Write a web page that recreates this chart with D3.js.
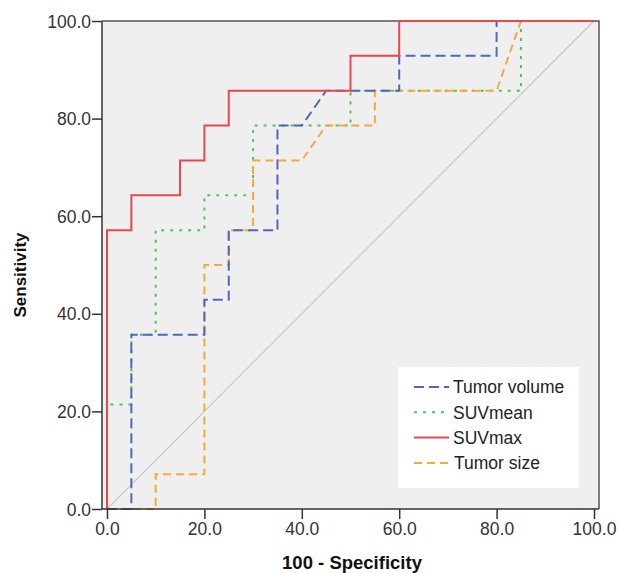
<!DOCTYPE html>
<html>
<head>
<meta charset="utf-8">
<script src="https://cdn.jsdelivr.net/npm/d3@7"></script>
<style>
  html, body { margin: 0; padding: 0; background: #fff; }
  svg { display: block; font-family: "Liberation Sans", Arial, sans-serif; }
</style>
</head>
<body>
<svg id="chart" width="618" height="573"></svg>
<script>
// ---- Data (100 - Specificity, Sensitivity) ----
const seriesNames = ["Tumor volume", "SUVmean", "SUVmax", "Tumor size"];

const volumeX = [0, 5, 5, 20, 20, 25, 25, 35, 35, 40, 45, 60, 60, 80, 80, 100];
const volumeY = [0, 0, 35.71, 35.71, 42.86, 42.86, 57.14, 57.14, 78.57, 78.57, 85.71, 85.71, 92.86, 92.86, 100, 100];

const suvMeanX = [0, 0, 5, 5, 10, 10, 20, 20, 30, 30, 50, 50, 85, 85, 100];
const suvMeanY = [0, 21.43, 21.43, 35.71, 35.71, 57.14, 57.14, 64.29, 64.29, 78.57, 78.57, 85.71, 85.71, 100, 100];

const suvMaxX = [0, 0, 5, 5, 15, 15, 20, 20, 25, 25, 50, 50, 60, 60, 100];
const suvMaxY = [0, 57.14, 57.14, 64.29, 64.29, 71.43, 71.43, 78.57, 78.57, 85.71, 85.71, 92.86, 92.86, 100, 100];

const sizeX = [0, 10, 10, 20, 20, 25, 25, 30, 30, 40, 45, 55, 55, 80, 85, 100];
const sizeY = [0, 0, 7.14, 7.14, 50, 50, 57.14, 57.14, 71.43, 71.43, 78.57, 78.57, 85.71, 85.71, 100, 100];

const xTicks = [0, 20, 40, 60, 80, 100];
const yTicks = [0, 20, 40, 60, 80, 100];
const xTitle = "100 - Specificity";
const yTitle = "Sensitivity";

// ---- Styles ----
const styles = [
  { color: "#4d68bf", dash: "10,5" },
  { color: "#52c05c", dash: "3,6" },
  { color: "#e9474c", dash: null },
  { color: "#f6a93c", dash: "8,5" }
];

const svg = d3.select("#chart");
const x = d3.scaleLinear().domain([0, 100]).range([107, 594]);
const y = d3.scaleLinear().domain([0, 100]).range([509, 21]);

const frame = { left: 102, right: 599, top: 21, bottom: 509 };

// plot background
svg.append("rect")
  .attr("x", frame.left).attr("y", frame.top)
  .attr("width", frame.right - frame.left).attr("height", frame.bottom - frame.top)
  .attr("fill", "#efefef");

// diagonal reference
svg.append("line")
  .attr("x1", x(0)).attr("y1", y(0)).attr("x2", x(100)).attr("y2", y(100))
  .attr("stroke", "#c9c9c9").attr("stroke-width", 1.2);

// frame top/right
svg.append("path")
  .attr("d", `M${frame.left},${frame.top}H${frame.right}V${frame.bottom}`)
  .attr("fill", "none").attr("stroke", "#555").attr("stroke-width", 1.5);

// series
const data = [
  d3.zip(volumeX, volumeY),
  d3.zip(suvMeanX, suvMeanY),
  d3.zip(suvMaxX, suvMaxY),
  d3.zip(sizeX, sizeY)
];
const line = d3.line().x(d => x(d[0])).y(d => y(d[1]));
const order = [1, 3, 0, 2];
order.forEach(i => {
  svg.append("path")
    .attr("d", line(data[i]))
    .attr("fill", "none")
    .attr("stroke", styles[i].color)
    .attr("stroke-width", 2)
    .attr("stroke-dasharray", styles[i].dash);
});

// axes
const fmt = d3.format(".1f");
const yAxis = d3.axisLeft(y).tickValues(yTicks).tickFormat(fmt).tickSize(10).tickPadding(1);
const gy = svg.append("g").attr("transform", `translate(${frame.left},0)`).call(yAxis);
const xAxis = d3.axisBottom(x).tickValues(xTicks).tickFormat(fmt).tickSize(10).tickPadding(4);
const gx = svg.append("g").attr("transform", `translate(0,${frame.bottom})`).call(xAxis);
[gx, gy].forEach(g => {
  g.select(".domain").remove();
  g.selectAll(".tick line").attr("stroke", "#333").attr("stroke-width", 1.5);
  g.selectAll(".tick text").attr("fill", "#333").style("font-size", "17.5px")
    .style("font-family", "'Liberation Sans', Arial, sans-serif");
});
gy.selectAll(".tick text").attr("dy", "0.35em");
// axis lines
svg.append("line").attr("x1", frame.left).attr("x2", frame.left).attr("y1", frame.top).attr("y2", frame.bottom)
  .attr("stroke", "#333").attr("stroke-width", 1.5);
svg.append("line").attr("x1", frame.left).attr("x2", frame.right).attr("y1", frame.bottom).attr("y2", frame.bottom)
  .attr("stroke", "#333").attr("stroke-width", 1.5);

// titles
svg.append("text")
  .attr("x", 352).attr("y", 569)
  .attr("text-anchor", "middle")
  .style("font-weight", "bold").style("font-size", "18.5px").attr("fill", "#111")
  .text(xTitle);
svg.append("text")
  .attr("transform", "translate(26,275) rotate(-90)")
  .attr("text-anchor", "middle")
  .style("font-weight", "bold").style("font-size", "17px").attr("fill", "#111")
  .text(yTitle);

// legend
const lg = svg.append("g");
lg.append("rect").attr("x", 398).attr("y", 367).attr("width", 181).attr("height", 121).attr("fill", "#fff");
seriesNames.forEach((name, i) => {
  const cy = 387 + i * 25.3;
  lg.append("line")
    .attr("x1", 414).attr("x2", 449).attr("y1", cy).attr("y2", cy)
    .attr("stroke", styles[i].color).attr("stroke-width", 2)
    .attr("stroke-dasharray", styles[i].dash);
  lg.append("text")
    .attr("x", i === 3 ? 454 : 453).attr("y", cy).attr("dy", "0.36em")
    .style("font-size", "17.5px").attr("fill", "#222")
    .text(name);
});
</script>
</body>
</html>
